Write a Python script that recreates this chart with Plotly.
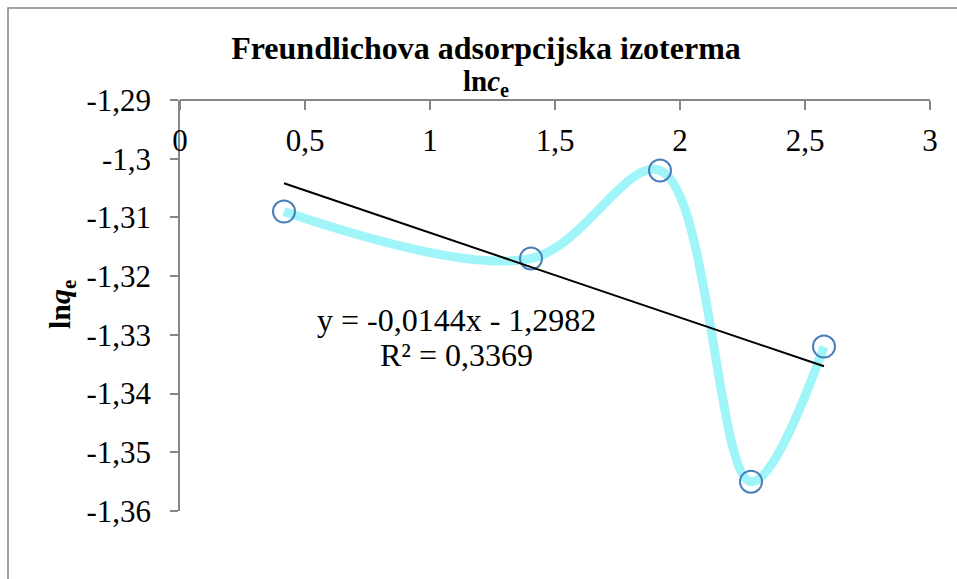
import numpy as np
import plotly.graph_objects as go

# Data
ln_ce = [0.416, 1.404, 1.92, 2.284, 2.576]
ln_qe = [-1.309, -1.317, -1.302, -1.355, -1.332]
x_tick_vals = [0, 0.5, 1, 1.5, 2, 2.5, 3]
x_tick_labels = ["0", "0,5", "1", "1,5", "2", "2,5", "3"]
y_tick_vals = [-1.36, -1.35, -1.34, -1.33, -1.32, -1.31, -1.30, -1.29]
y_tick_labels = ["-1,36", "-1,35", "-1,34", "-1,33", "-1,32", "-1,31", "-1,3", "-1,29"]
trend_eq = "y = -0,0144x - 1,2982"
trend_r2 = "R² = 0,3369"
title_text = "Freundlichova adsorpcijska izoterma"
x_title = "ln<i>c</i><sub>e</sub>"
y_title = "ln<i>q</i><sub>e</sub>"

W, H = 957, 579
L, R, T, B = 180, 27, 100, 68
pw, ph = W - L - R, H - T - B

def px_x(p):
    return (p - L) / pw

def px_y(p):
    return (H - B - p) / ph

slope, intercept = np.polyfit(ln_ce, ln_qe, 1)
tx = np.array([min(ln_ce), max(ln_ce)])
ty = slope * tx + intercept

font_fam = "Liberation Serif, Times New Roman, serif"

fig = go.Figure()
fig.add_trace(go.Scatter(
    x=ln_ce, y=ln_qe, mode="lines+markers",
    line=dict(color="#A0F5F8", width=9, shape="spline", smoothing=1),
    marker=dict(symbol="circle-open", size=22, color="#4A7EBB", line=dict(width=2, color="#4A7EBB")),
    showlegend=False, hoverinfo="skip"))
fig.add_trace(go.Scatter(
    x=tx, y=ty, mode="lines", line=dict(color="black", width=2),
    showlegend=False, hoverinfo="skip"))

axis_color = "#868686"
fig.update_layout(
    width=W, height=H,
    margin=dict(l=L, r=R, t=T, b=B),
    paper_bgcolor="white", plot_bgcolor="white",
    font=dict(family=font_fam, color="black", size=31),
    title=dict(text="<b>" + title_text + "</b>", x=486 / W, xref="container", xanchor="center",
               y=1 - 48 / H, yref="container", yanchor="middle",
               font=dict(size=32, family=font_fam, color="black")),
    xaxis=dict(range=[0, 3], side="bottom", anchor="free", position=1,
               tickvals=x_tick_vals, ticktext=x_tick_labels,
               ticks="outside", ticklen=9, tickwidth=1.5, tickcolor=axis_color,
               ticklabelstandoff=4,
               showline=True, linecolor=axis_color, linewidth=1.5, showgrid=False, zeroline=False,
               tickfont=dict(size=31, family=font_fam, color="black")),
    yaxis=dict(range=[-1.36, -1.29], domain=[0, 1], tickvals=y_tick_vals, ticktext=y_tick_labels,
               ticks="outside", ticklen=8, tickwidth=1.5, tickcolor=axis_color,
               ticklabelstandoff=13,
               showline=True, linecolor=axis_color, linewidth=1.5, showgrid=False, zeroline=False,
               tickfont=dict(size=31, family=font_fam, color="black")),
    shapes=[dict(type="rect", xref="paper", yref="paper",
                 x0=px_x(8), x1=px_x(990), y0=px_y(620), y1=px_y(8),
                 line=dict(color="#878787", width=1.5), fillcolor="rgba(0,0,0,0)", layer="below")],
    annotations=[
        dict(text="<b>" + x_title + "</b>", xref="paper", yref="paper", x=px_x(486), y=px_y(83),
             xanchor="center", yanchor="middle", showarrow=False, font=dict(size=29, family=font_fam)),
        dict(text="<b>" + y_title + "</b>", xref="paper", yref="paper", x=px_x(62), y=px_y(305),
             xanchor="center", yanchor="middle", textangle=-90, showarrow=False,
             font=dict(size=30, family=font_fam)),
        dict(text=trend_eq, xref="paper", yref="paper", x=px_x(456), y=px_y(320),
             xanchor="center", yanchor="middle", showarrow=False,
             font=dict(size=32, family=font_fam)),
        dict(text=trend_r2, xref="paper", yref="paper", x=px_x(456), y=px_y(355),
             xanchor="center", yanchor="middle", showarrow=False,
             font=dict(size=32, family=font_fam)),
    ],
)
fig.write_html("out.html", config={"displayModeBar": False},
               post_script="document.body.style.margin='0';document.body.style.overflow='hidden';")
